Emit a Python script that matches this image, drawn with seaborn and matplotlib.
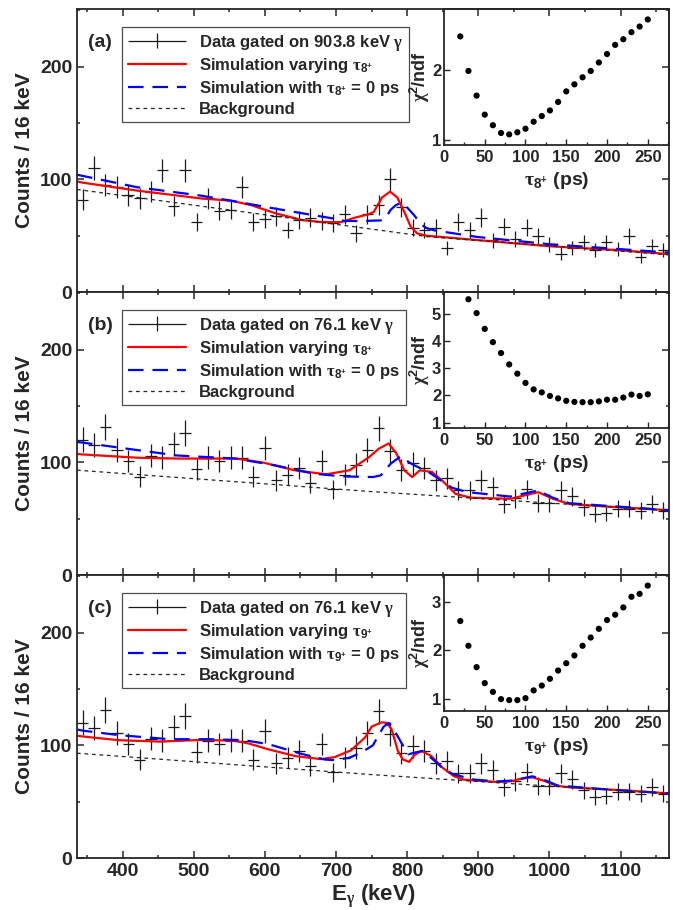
import numpy as np
import matplotlib
matplotlib.use('Agg')
import matplotlib.pyplot as plt
from matplotlib.ticker import MultipleLocator
from matplotlib.container import ErrorbarContainer
from matplotlib.legend_handler import HandlerErrorbar
import seaborn as sns

# gamma-ray spectra, 16 keV bins from 336 to 1168 keV
bin_centres = np.arange(344, 1161, 16)
counts_a = [82, 110, 95, 93, 86, 83, 89, 108, 76, 108, 62, 83, 72, 73, 93, 62, 65, 67, 55, 64,
            66, 63, 61, 69, 52, 69, 77, 100, 75, 57, 55, 57, 39, 62, 55, 66, 46, 58, 47, 57,
            50, 42, 34, 39, 44, 37, 44, 38, 50, 31, 41, 37]
# (b) and (c) show the same 76.1 keV gated spectrum
counts_bc = [120, 115, 131, 111, 101, 87, 106, 104, 116, 126, 94, 104, 101, 104, 104, 87, 113, 84, 89, 95,
             82, 101, 76, 89, 98, 111, 130, 110, 93, 99, 95, 84, 86, 75, 75, 84, 78, 63, 68, 76,
             64, 64, 75, 70, 60, 54, 55, 59, 59, 57, 63, 57]

# background
bkg_a_e = [336, 830, 1168]
bkg_a_v = [91, 49, 33]
bkg_bc_e = [336, 750, 1168]
bkg_bc_v = [93, 74, 57]

# simulations, panel (a)
red_a_e = [336, 344, 420, 510, 553, 581, 614, 651, 679, 707, 727, 746, 753, 765, 776, 786, 796,
           805, 814, 826, 900, 1000, 1100, 1168]
red_a_v = [98, 97, 90, 83, 81, 77, 70, 64, 62, 62, 66, 69, 71, 84, 89, 84, 71,
           58, 52, 50, 46, 40.6, 37, 33.6]
blue_a_e = [336, 344, 420, 510, 557, 605, 651, 698, 712, 736, 763, 770, 777, 784, 791, 800, 810,
            819, 826, 838, 899, 1000, 1100, 1168]
blue_a_v = [104, 103, 93, 85.5, 80.5, 75, 70, 65, 63, 63, 63.5, 66, 73, 77, 79, 75, 68,
            60.5, 57, 54.7, 48.8, 42.4, 38, 35]

# simulations, panel (b)
red_b_e = [336, 342, 422, 477, 559, 598, 642, 686, 719, 747, 760, 774, 785, 796, 807, 818, 835,
           849, 868, 890, 945, 984, 1005, 1028, 1082, 1168]
red_b_v = [107.5, 107, 104, 103.3, 103.3, 99.7, 92.9, 89.3, 92.9, 104.8, 112, 116.7, 107.7, 92.9, 86.9, 92.9, 91.4,
           83.9, 72, 68.5, 67.6, 73.5, 67.6, 63, 60.7, 57.5]
blue_b_e = [336, 342, 422, 477, 559, 614, 669, 708, 752, 763, 777, 791, 802, 810, 830, 863, 885,
            945, 984, 1005, 1028, 1168]
blue_b_v = [118, 117.6, 110.7, 106, 103.3, 97.3, 89.9, 87.5, 86.9, 88.4, 98.8, 105.4, 100.3, 97.3, 91.4, 77.4, 73.5,
            69.6, 75, 68.5, 63.7, 57.5]

# simulations, panel (c)
red_c_e = [336, 344, 395, 452, 513, 557, 578, 605, 643, 679, 698, 721, 741, 750, 764, 771, 778, 787,
           794, 803, 810, 820, 834, 850, 866, 880, 927, 945, 964, 976, 992, 1011, 1030, 1068, 1115, 1168]
red_c_v = [108.5, 107.8, 104.5, 103.3, 104.8, 104, 101.5, 96.4, 90.4, 87.7, 89.5, 95.5, 107, 116.5, 120.4, 119.8, 114.4, 95,
           87.4, 85.3, 91.3, 95, 90.4, 80, 72.5, 69.5, 67.4, 68, 71, 71.6, 68.6, 64, 62.6, 61.4, 59.6, 57.3]
blue_c_e = [336, 344, 395, 466, 522, 571, 605, 651, 684, 698, 719, 735, 752, 758, 767, 774, 781, 793,
            802, 810, 822, 839, 852, 866, 895, 927, 945, 962, 976, 992, 1011, 1068, 1168]
blue_c_v = [114, 113, 109, 105.4, 105.4, 104.5, 101, 92.5, 87.4, 86.8, 89, 93.4, 100, 107, 116.5, 119.8, 114.4, 101,
            92, 93.4, 95, 86, 78.4, 74, 69.5, 68, 68.6, 70.4, 72.5, 69.5, 64.4, 61.4, 57.3]

# chi2/ndf scans vs lifetime
tau_a = np.arange(20, 251, 10)
chi2_a = [2.47, 1.98, 1.63, 1.36, 1.21, 1.10, 1.08, 1.11, 1.16, 1.26, 1.34, 1.42,
          1.54, 1.69, 1.79, 1.89, 1.98, 2.10, 2.22, 2.35, 2.43, 2.53, 2.61, 2.71]
tau_b = np.arange(30, 251, 10)
chi2_b = [5.54, 5.03, 4.45, 3.96, 3.56, 3.14, 2.80, 2.46, 2.22, 2.11, 1.98, 1.89,
          1.80, 1.76, 1.75, 1.75, 1.78, 1.84, 1.84, 1.92, 2.03, 1.98, 2.04]
tau_c = np.arange(20, 251, 10)
chi2_c = [2.60, 2.09, 1.65, 1.32, 1.14, 0.99, 0.97, 0.97, 1.01, 1.17, 1.27, 1.41,
          1.58, 1.73, 1.89, 2.09, 2.26, 2.44, 2.62, 2.73, 2.88, 3.10, 3.16, 3.33]

sns.set_theme(style='ticks')
plt.rcParams['font.family'] = ['Liberation Sans', 'DejaVu Sans']
plt.rcParams['font.weight'] = 'bold'
plt.rcParams['axes.labelweight'] = 'bold'
# greek letters in a serif face (like the symbol font of the original)
plt.rcParams['mathtext.fontset'] = 'custom'
plt.rcParams['mathtext.rm'] = 'Liberation Serif'
plt.rcParams['mathtext.default'] = 'regular'
plt.rcParams['axes.linewidth'] = 1.3

panels = [
    dict(tag='(a)', counts=counts_a, gate='903.8', state='8',
         red=(red_a_e, red_a_v), blue=(blue_a_e, blue_a_v), bkg=(bkg_a_e, bkg_a_v),
         tau=tau_a, chi2=chi2_a, chi_lim=(0.93, 2.86), chi_ticks=[1, 2]),
    dict(tag='(b)', counts=counts_bc, gate='76.1', state='8',
         red=(red_b_e, red_b_v), blue=(blue_b_e, blue_b_v), bkg=(bkg_bc_e, bkg_bc_v),
         tau=tau_b, chi2=chi2_b, chi_lim=(0.80, 5.81), chi_ticks=[1, 2, 3, 4, 5]),
    dict(tag='(c)', counts=counts_bc, gate='76.1', state='9',
         red=(red_c_e, red_c_v), blue=(blue_c_e, blue_c_v), bkg=(bkg_bc_e, bkg_bc_v),
         tau=tau_c, chi2=chi2_c, chi_lim=(0.746, 3.55), chi_ticks=[1, 2, 3]),
]

fig = plt.figure(figsize=(6.73, 9.10), dpi=100)
main_bottoms = [0.6791, 0.3681, 0.0571]
inset_bottoms = [0.8407, 0.5297, 0.2187]

for i, p in enumerate(panels):
    ax = fig.add_axes([0.1144, main_bottoms[i], 0.8796, 0.311])
    tau_lbl = r'$\mathrm{τ}_{%s^{+}}$' % p['state']

    ax.errorbar(bin_centres, p['counts'], xerr=8, yerr=np.sqrt(p['counts']), fmt='none',
                ecolor='0.1', elinewidth=0.9, capsize=0,
                label=r'Data gated on %s keV $\mathrm{γ}$' % p['gate'])
    sns.lineplot(x=p['red'][0], y=p['red'][1], color='red', linewidth=1.6, ax=ax,
                 label='Simulation varying ' + tau_lbl)
    sns.lineplot(x=p['blue'][0], y=p['blue'][1], color='blue', linewidth=1.6, ax=ax,
                 linestyle=(0, (7, 4)), label='Simulation with ' + tau_lbl + ' = 0 ps')
    sns.lineplot(x=p['bkg'][0], y=p['bkg'][1], color='0.15', linewidth=0.9, ax=ax,
                 linestyle=(0, (3, 3)), label='Background')

    ax.set_xlim(336, 1168)
    ax.set_ylim(0, 251)
    ax.xaxis.set_major_locator(MultipleLocator(100))
    ax.xaxis.set_minor_locator(MultipleLocator(50))
    ax.yaxis.set_major_locator(MultipleLocator(100))
    ax.yaxis.set_minor_locator(MultipleLocator(50))
    ax.tick_params(which='both', direction='in', top=True, right=True, labelsize=14)
    ax.tick_params(which='major', length=5, width=1.1)
    ax.tick_params(which='minor', length=2.5, width=1.1)
    ax.set_ylabel('Counts / 16 keV', fontsize=15, labelpad=4)
    if i < 2:
        ax.tick_params(labelbottom=False)
    else:
        ax.set_xlabel(r'E$_{\mathrm{γ}}$ (keV)', fontsize=16, labelpad=2)

    handles, labels = ax.get_legend_handles_labels()
    order = [labels.index(l) for l in [labels[-1]] + labels[:-1]]
    leg = ax.legend([handles[k] for k in order], [labels[k] for k in order],
                    loc='upper left', bbox_to_anchor=(0.0755, 0.9375), borderaxespad=0,
                    fontsize=12, frameon=True, fancybox=False, edgecolor='0.3', framealpha=1,
                    handlelength=3.5, handletextpad=0.8, borderpad=0.35, labelspacing=0.22,
                    handler_map={ErrorbarContainer: HandlerErrorbar(xerr_size=1.75, yerr_size=0.45)})
    leg.get_frame().set_linewidth(0.9)
    ax.text(0.019, 0.88, p['tag'], transform=ax.transAxes, fontsize=14,
            fontweight='bold', va='center')

    # chi2 inset
    ins = fig.add_axes([0.6597, inset_bottoms[i], 0.3343, 0.1495], facecolor='none')
    sns.scatterplot(x=p['tau'], y=p['chi2'], color='black', s=20, edgecolor='none', ax=ins)
    ins.set_xlim(0, 276)
    ins.set_ylim(*p['chi_lim'])
    ins.set_yticks(p['chi_ticks'])
    ins.xaxis.set_major_locator(MultipleLocator(50))
    ins.xaxis.set_minor_locator(MultipleLocator(25))
    ins.tick_params(which='both', direction='in', labelsize=12, width=1.0)
    ins.tick_params(which='major', length=4)
    ins.tick_params(which='minor', length=2)
    ins.tick_params(axis='y', pad=2)
    ins.set_xlabel(tau_lbl + ' (ps)', fontsize=14, labelpad=4)
    ins.set_ylabel(r'$\mathrm{χ}^{2}$/ndf', fontsize=13, labelpad=0)

fig.savefig('out.png', dpi=100)
